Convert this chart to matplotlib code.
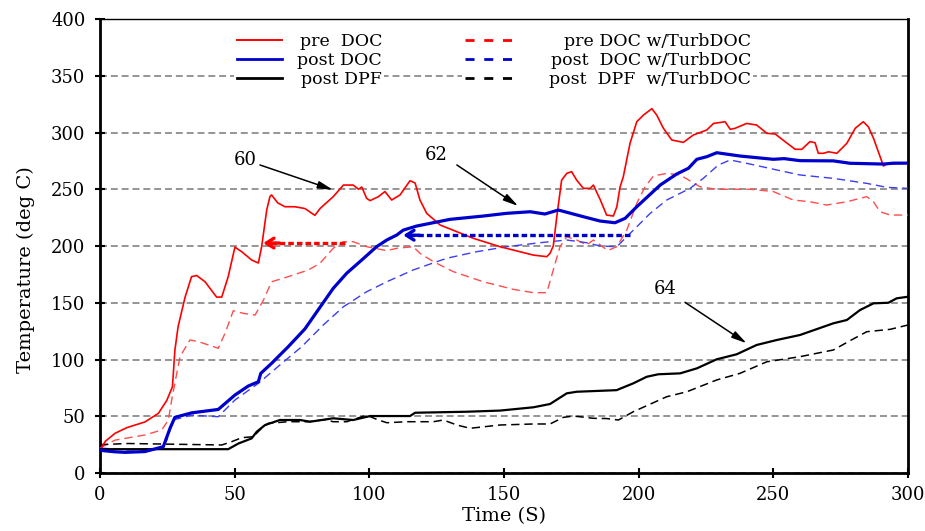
import matplotlib
matplotlib.use("Agg")
import matplotlib.pyplot as plt
from matplotlib.lines import Line2D

plt.rcParams['font.family'] = ['DejaVu Serif']
plt.rcParams['lines.scale_dashes'] = False

# ---- data (time s, temperature deg C) ----
pre_doc = [(0, 20), (2, 28), (5.6, 35), (10, 40), (16.7, 45), (21.7, 52.6), (24.8, 64), (26.9, 76),
           (27.8, 108), (29, 129), (31.6, 155), (34, 173), (35.9, 174), (39, 168.5), (43.3, 155),
           (45.2, 155), (47.6, 173), (50.1, 199), (52.6, 195), (56.3, 187.7), (58.8, 185), (60, 199),
           (61.9, 231.7), (63.1, 243.5), (63.7, 245), (66, 238), (68.7, 234.6), (72.4, 234.6),
           (76.1, 233), (79.8, 227), (81.7, 233), (86.6, 243.5), (90.4, 253.7), (94, 253.7),
           (96, 250), (97.2, 252), (99, 242), (100.3, 240), (103.4, 243.5), (105.8, 248),
           (108.3, 240.5), (111.4, 245), (115.1, 257.5), (117, 255.5), (118.8, 240.5), (121.3, 228.8),
           (126.3, 218.5), (138.6, 206.8), (148.5, 199.4), (160.9, 192), (165.9, 190.6), (167.1, 193.6),
           (168.3, 200), (169.6, 225.8), (171.4, 258), (173.3, 264), (175.1, 265.5), (177, 258),
           (179.5, 250.8), (182, 250.8), (183.2, 253.7), (185.7, 241), (188.1, 227.3), (190.6, 226.4),
           (191.9, 234.6), (193.1, 252), (194.3, 261), (196.8, 290.5), (199.3, 309.5), (201.8, 315.4),
           (204.9, 321), (206.7, 315.4), (209.2, 303.7), (212.3, 293.4), (216.6, 291.3), (220.3, 297.8),
           (225.3, 302.2), (227.8, 308), (232.1, 309.5), (234, 302.8), (235.8, 303.7), (240.1, 308),
           (243.8, 306.6), (247.6, 299.3), (250.7, 298.7), (254.4, 291.9), (258.1, 285.2),
           (260.6, 285.2), (263.6, 292), (265.5, 291), (266.7, 281.7), (268.6, 281.7), (270.5, 283),
           (273.6, 281.7), (277.3, 290.5), (280.4, 303.7), (283.4, 309.5), (285.3, 305), (287.2, 294.9),
           (289, 283), (290.9, 270.5), (292.1, 272.2), (298.9, 272.9), (300, 273)]

post_doc = [(0, 20), (5, 18.8), (9.3, 18.2), (16.7, 18.9), (23.5, 23.2), (26, 39.4), (27.8, 49),
            (34, 53), (43.9, 56), (50.1, 68.7), (55.1, 76.7), (58.8, 80.4), (59.7, 87.8), (63.7, 96.6),
            (69.9, 111.3), (76.1, 127), (80.5, 142), (86.6, 162.7), (91.6, 176), (97.2, 187.7),
            (102.7, 199.4), (106.5, 205.3), (110.2, 209.7), (112.6, 214), (117.6, 217.6), (130, 223.5),
            (142.3, 226.4), (151, 228.8), (159.7, 230.2), (165.2, 228.2), (170.2, 231.7), (179.5, 225.8),
            (185.7, 222), (191.2, 220.5), (195, 224.4), (199.3, 234.6), (208, 253.7), (214.1, 263.4),
            (218.5, 268.5), (221.6, 276.4), (225.3, 278.7), (229, 282.2), (237.6, 279.3), (250, 276.4),
            (254, 277), (259.9, 275.2), (272.3, 275), (278.5, 272.9), (290.9, 272.2), (294.6, 273),
            (300, 273)]

post_dpf = [(0, 21), (20, 21), (47.6, 21), (51.4, 26), (56.3, 30.5), (58.2, 36.4), (61.3, 42.3),
            (66.8, 46.7), (74.3, 46.7), (78, 45.2), (86.6, 48.2), (94, 46.7), (100.3, 50.2),
            (115.1, 50.2), (117, 53.1), (136.2, 54), (148.5, 55), (160.9, 57.9), (167.1, 60.8),
            (173.3, 70.2), (177, 71.6), (191.8, 73), (198, 79), (203, 84.8), (207.3, 87), (215.4, 87.8),
            (221.6, 92.2), (229, 100.2), (236.4, 104.6), (243.8, 112.8), (251.3, 117.2), (259.9, 121.6),
            (272.3, 131.9), (277.3, 134.8), (282.2, 143.6), (287.2, 149.5), (292.7, 150), (295.8, 153.9),
            (300, 155.3)]

pre_doc_turb = [(0, 22), (5.6, 29), (16.7, 33.5), (22.9, 37.9), (25.4, 46.7), (26.6, 64.3), (29.7, 102.5),
                (33.4, 117.2), (36.5, 115.8), (43.9, 109.9), (46.4, 123), (49.5, 143), (53.2, 140.7),
                (57.6, 139.2), (60.7, 152.4), (63.7, 168.5), (69.9, 173), (77.4, 178.9), (81.7, 184.8),
                (86.6, 198), (90.4, 203.8), (94, 203.8), (99, 199.4), (106.5, 195.9), (110.2, 198),
                (116.3, 199.4), (118.8, 193.6), (123.8, 186.2), (131.2, 177.4), (142.3, 168.5),
                (153.5, 161.8), (160.9, 158.9), (165.9, 158.9), (168.3, 178.9), (170.8, 199.4),
                (173.3, 208.2), (177, 205.3), (180.7, 200.9), (183.2, 205.3), (185.7, 201), (188.5, 196),
                (191.9, 199.4), (195.6, 214.1), (199.3, 237.6), (202.4, 252.2), (205.5, 261.7),
                (210.4, 264), (215.4, 262.6), (222.8, 252.2), (229, 250), (241.4, 250), (250, 248),
                (257.4, 240.5), (263.6, 239), (269.8, 236.1), (277.3, 239), (284.7, 243.5), (287.2, 239),
                (289.6, 230.2), (293.4, 227.3), (300, 227.3)]

post_doc_turb = [(0, 22), (10.5, 20.3), (22.9, 21.8), (24.8, 29), (27.2, 46.7), (34, 51), (43.9, 49.6),
                 (50.1, 64.3), (58.8, 79), (67.5, 96.6), (74.9, 111.3), (82.9, 130.4), (90.4, 146.5),
                 (99, 159.7), (106.5, 168.5), (116.3, 178.9), (128.7, 189.2), (139.9, 195), (151, 199.4),
                 (163.4, 202.9), (173.3, 205.3), (180.7, 202.9), (185.7, 200), (191.9, 199.4),
                 (195.6, 208.2), (204.3, 228.8), (210.4, 240.5), (219.1, 250.8), (224, 259.6),
                 (229.6, 271.4), (234, 275.8), (241.4, 272.2), (251.3, 267), (259.9, 262.6),
                 (272.3, 259.6), (284.7, 255.2), (292.1, 251.7), (300, 250.8)]

post_dpf_turb = [(0, 25), (10.5, 26), (45.2, 24.7), (48.9, 27.6), (52.6, 31.1), (56.9, 32), (60, 39.4),
                 (62.5, 43.8), (69.9, 45.2), (77.4, 45.2), (83.5, 47), (86.6, 45.2), (91.6, 45.2),
                 (99, 51), (102.7, 47.3), (106.5, 44.3), (113.9, 45.2), (123.8, 45.2), (127.5, 46.7),
                 (132.5, 42.3), (137.4, 39.4), (148.5, 42.3), (160.9, 43.2), (167.1, 43.2), (172, 49),
                 (175.8, 50.2), (183.2, 48.2), (188, 48), (192.5, 46.7), (198, 54), (210.4, 67.2),
                 (217.9, 71.6), (229, 82), (237.6, 87.8), (247.6, 98), (259.9, 102.5), (272.3, 108.4),
                 (278.5, 116.6), (284.7, 124.5), (293.4, 126.6), (300, 130.4)]

labels_solid = ["pre  DOC", "post DOC", "post DPF"]
labels_dashed = ["pre DOC w/TurbDOC", "post  DOC w/TurbDOC", "post  DPF  w/TurbDOC"]

x_ticks = [0, 50, 100, 150, 200, 250, 300]
y_ticks = [0, 50, 100, 150, 200, 250, 300, 350, 400]

# callouts: (label, text pos, arrow start, arrow end)
callouts = [("60", (53.8, 275.5), (59.4, 271.4), (86.5, 249.5)),
            ("62", (125.0, 280.0), (132.5, 271.4), (155.3, 235.2)),
            ("64", (209.8, 161.8), (217.2, 150.4), (240.1, 114.3))]
# shift arrows: (from x, to x, y)
red_shift = (91.0, 60.6, 202.6)
blue_shift = (196.8, 112.6, 209.5)

# ---- styles ----
RED = '#ff0000'
RED_D = '#ff4d4d'
BLUE = '#0000cc'
BLUE_D = '#3d3df2'
BLACK = '#000000'
DASH = (0, (6, 3.5))
W, H = 925, 531

fig = plt.figure(figsize=(W / 100, H / 100), dpi=100)
ax = fig.add_axes([0.1081, 0.1092, 0.8735, 0.855])


def xy(series):
    return [p[0] for p in series], [p[1] for p in series]


ax.plot(*xy(pre_doc), color=RED, lw=1.2, zorder=5)
ax.plot(*xy(post_doc), color=BLUE, lw=2.3, zorder=6)
ax.plot(*xy(post_dpf), color=BLACK, lw=1.6, zorder=5)
ax.plot(*xy(pre_doc_turb), color=RED_D, lw=1.0, ls=DASH, zorder=4)
ax.plot(*xy(post_doc_turb), color=BLUE_D, lw=1.0, ls=DASH, zorder=4)
ax.plot(*xy(post_dpf_turb), color=BLACK, lw=1.1, ls=DASH, zorder=4)

# callouts
for lab, tpos, a0, a1 in callouts:
    ax.text(tpos[0], tpos[1], lab, fontsize=13, ha='center', va='center', zorder=8)
    ax.annotate('', xy=a1, xytext=a0,
                arrowprops=dict(arrowstyle='-|>,head_length=0.9,head_width=0.22',
                                color='black', lw=1.1, shrinkA=0, shrinkB=0), zorder=8)

# shift arrows
for (x0, x1, yv), col in [(red_shift, RED), (blue_shift, BLUE)]:
    ax.plot([x0, x1 + 1.5], [yv, yv], color=col, lw=2.4, ls=(0, (4, 2.2)), zorder=7)
    ax.annotate('', xy=(x1, yv), xytext=(x1 + 6, yv),
                arrowprops=dict(arrowstyle='->,head_length=0.55,head_width=0.35',
                                color=col, lw=2.4, shrinkA=0, shrinkB=0), zorder=7)

ax.set_xlim(0, 300)
ax.set_ylim(0, 400)
ax.set_xticks(x_ticks)
ax.set_yticks(y_ticks)
ax.tick_params(axis='both', direction='inout', length=7, width=1.5, labelsize=13, pad=6)
ax.tick_params(axis='y', pad=7)

ax.yaxis.grid(True, color='#8c8c8c', lw=1.3, ls=(0, (5, 2.8)))
ax.set_axisbelow(True)

for side in ['left', 'bottom', 'right']:
    ax.spines[side].set_linewidth(2.0)
ax.spines['top'].set_linewidth(1.0)

ax.set_xlabel("Time (S)", fontsize=14, labelpad=2)
ax.set_ylabel("Temperature (deg C)", fontsize=14)
ax.yaxis.set_label_coords(-0.080, 0.448)

# legends (handles from the library, labels right-aligned afterwards)
LFS = 12.5
solid_handles = [Line2D([], [], color=RED, lw=1.4), Line2D([], [], color=BLUE, lw=2.0),
                 Line2D([], [], color=BLACK, lw=2.0)]
dashed_handles = [Line2D([], [], color=RED, lw=2.0, ls=(0, (6.5, 7))),
                  Line2D([], [], color=BLUE, lw=2.0, ls=(0, (6.5, 7))),
                  Line2D([], [], color=BLACK, lw=2.0, ls=(0, (6.5, 7)))]
common = dict(loc='upper left', fontsize=LFS, frameon=True, facecolor='white', edgecolor='none',
              framealpha=1, labelspacing=0.12, borderpad=0.2, borderaxespad=0, fancybox=False)
leg1 = ax.legend(solid_handles, labels_solid, bbox_to_anchor=(0.152, 1.0),
                 handlelength=45 / (LFS * 100 / 72), handletextpad=0.5, **common)
ax.add_artist(leg1)
leg2 = ax.legend(dashed_handles, labels_dashed, bbox_to_anchor=(0.40, 1.0),
                 handlelength=56 / (LFS * 100 / 72), handletextpad=0.5, **common)

# targets in pixels (from top-left): handle left x, first row y, text right x
targets = [(leg1, 237, 40, 382), (leg2, 465, 40, 751)]
fig.canvas.draw()
for leg, hx, hy, _ in targets:
    h0 = leg.legend_handles[0]
    pts = h0.get_transform().transform(h0.get_xydata())
    cur_x = pts[:, 0].min()
    cur_y = pts[:, 1].mean()
    dx = (hx - cur_x) / ax.bbox.width
    dy = ((H - hy) - cur_y) / ax.bbox.height
    bx, by = leg.get_bbox_to_anchor().transformed(ax.transAxes.inverted()).p0
    leg.set_bbox_to_anchor((bx + dx, by + dy), transform=ax.transAxes)

fig.canvas.draw()
for leg, _, _, tx in targets:
    for t in leg.get_texts():
        bx, by = t.get_transform().transform(t.get_position())
        t.set_visible(False)
        fig.text(tx / W, by / H, t.get_text(), ha='right', va='baseline', fontsize=LFS, zorder=10,
                 bbox=dict(facecolor='white', edgecolor='none', pad=1.5))

fig.savefig("out.png", dpi=100)
